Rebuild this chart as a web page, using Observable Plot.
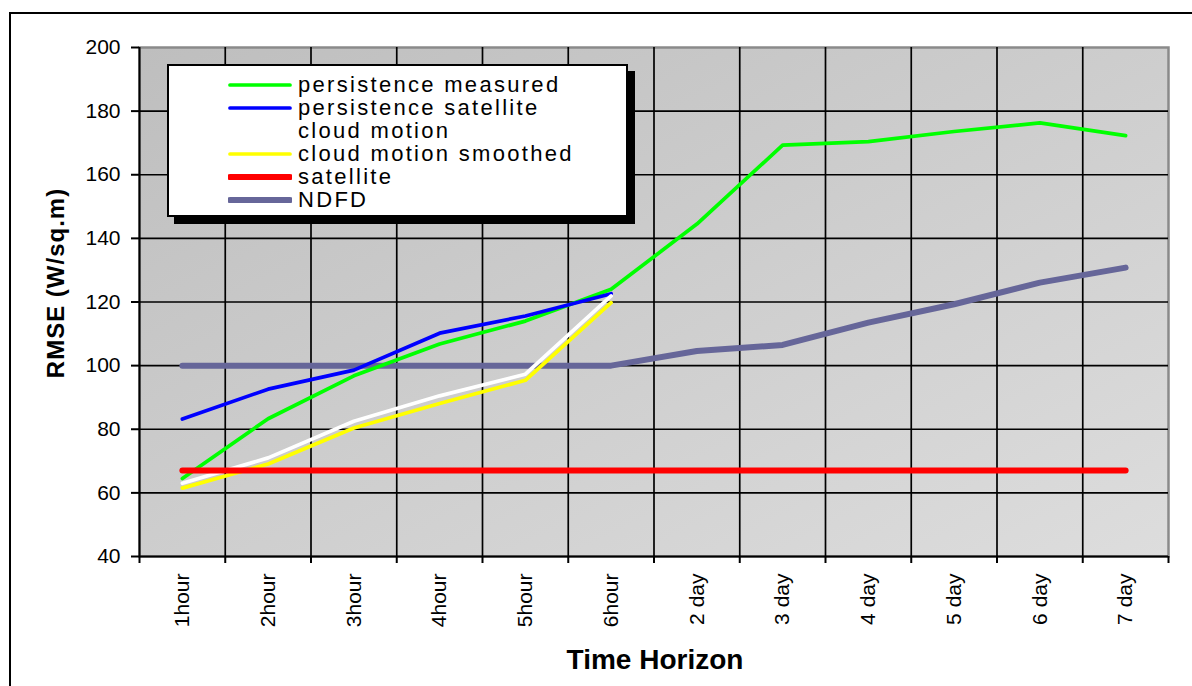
<!DOCTYPE html>
<html>
<head>
<meta charset="utf-8">
<script src="https://cdn.jsdelivr.net/npm/d3@7"></script>
<script src="https://cdn.jsdelivr.net/npm/@observablehq/plot@0.6"></script>
<style>
  html, body { margin: 0; padding: 0; background: #fff; }
  #wrap { position: relative; width: 1192px; height: 686px; overflow: hidden; font-family: "Liberation Sans", Arial, sans-serif; }
  #border { position: absolute; left: 9px; top: 12px; width: 1300px; height: 800px; border: 2px solid #000; box-sizing: border-box; }
  #chart { position: absolute; left: 0; top: 0; }
  #ytitle { position: absolute; left: 56px; top: 283px; transform: translate(-50%, -50%) rotate(-90deg); font-weight: bold; font-size: 24px; letter-spacing: 1px; white-space: nowrap; color: #000; }
  #xtitle { position: absolute; left: 655px; top: 660px; transform: translate(-50%, -50%); font-weight: bold; font-size: 28px; white-space: nowrap; color: #000; }
  #legend { position: absolute; left: 167px; top: 64px; width: 461px; height: 153px; box-sizing: border-box; border: 2px solid #000; background: #fff; box-shadow: 7px 7px 0 #000; }
  .row { position: absolute; left: 0; height: 23px; display: flex; align-items: center; }
  .row svg { margin-left: 59px; width: 64px; height: 10px; flex: none; }
  .row span { display: block; height: 23px; overflow: visible; margin-left: 6px; font-size: 22px; letter-spacing: 2.3px; color: #000; white-space: nowrap; line-height: 23px; }
</style>
</head>
<body>
<div id="wrap">
  <div id="border"></div>
  <div id="chart"></div>
  <div id="ytitle">RMSE (W/sq.m)</div>
  <div id="xtitle">Time Horizon</div>
  <div id="legend"></div>
</div>
<script>
// ---- data ----
const categories = ["1hour", "2hour", "3hour", "4hour", "5hour", "6hour", "2 day", "3 day", "4 day", "5 day", "6 day", "7 day"];
const yTicks = [40, 60, 80, 100, 120, 140, 160, 180, 200];
const seriesNames = ["persistence measured", "persistence satellite", "cloud motion", "cloud motion smoothed", "satellite", "NDFD"];
const persistenceMeasured = [64.5, 83.3, 96.8, 106.8, 114, 124, 144.5, 169.3, 170.4, 173.6, 176.3, 172.3];
const persistenceSatellite = [83.2, 92.6, 98.6, 110.2, 115.6, 122.6, null, null, null, null, null, null];
const cloudMotion = [63, 71, 82.5, 90.5, 97.3, 121.9, null, null, null, null, null, null];
const cloudMotionSmoothed = [61.5, 69.1, 80.4, 88.1, 95.4, 119.8, null, null, null, null, null, null];
const satellite = [67, 67, 67, 67, 67, 67, 67, 67, 67, 67, 67, 67];
const ndfd = [100, 100, 100, 100, 100, 100, 104.6, 106.5, 113.5, 119.3, 126.1, 130.8];

const seriesValues = [persistenceMeasured, persistenceSatellite, cloudMotion, cloudMotionSmoothed, satellite, ndfd];
const seriesColors = ["#00ff00", "#0000ff", "#ffffff", "#ffff00", "#ff0000", "#666699"];
const seriesWidths = [3.7, 3.7, 3.7, 3.7, 6, 6];
const drawOrder = [5, 0, 1, 2, 3, 4];

// ---- layout ----
const W = 1192, H = 686;
const mL = 139, mT = 47, mR = 24, mB = 130;
const step = (W - mL - mR) / categories.length;

const rows = seriesNames.map((name, s) =>
  categories.map((c, i) => ({series: name, cat: c, value: seriesValues[s][i]})).filter(d => d.value != null)
);

const lineMarks = drawOrder.map(s => Plot.line(rows[s], {
  x: "cat", y: "value", stroke: seriesColors[s], strokeWidth: seriesWidths[s],
  strokeLinejoin: "round", strokeLinecap: "round"
}));

const chart = Plot.plot({
  width: W, height: H,
  marginLeft: mL, marginTop: mT, marginRight: mR, marginBottom: mB,
  style: {fontFamily: "'Liberation Sans', Arial, sans-serif", fontSize: "21px", color: "#000", background: "transparent", overflow: "visible"},
  x: {type: "point", domain: categories, padding: 0.5, round: false, label: null, axis: null},
  y: {domain: [40, 200], label: null, axis: null},
  marks: [
    Plot.frame({fill: "url(#bg)", stroke: "#8a8a8a", strokeWidth: 2.5}),
    Plot.gridY({ticks: yTicks.slice(1, -1), stroke: "#000", strokeOpacity: 1, strokeWidth: 1.7}),
    Plot.ruleX(categories.slice(1), {x: d => d, dx: -step / 2, stroke: "#000", strokeWidth: 1.7}),
    Plot.ruleX(categories.slice(0, 1), {x: d => d, dx: -step / 2, stroke: "#000", strokeWidth: 2}),
    Plot.ruleY(yTicks.slice(0, 1), {stroke: "#000", strokeWidth: 2}),
    Plot.axisX({ticks: categories, tickSize: 7, tickFormat: () => "", dx: -step / 2, stroke: "#000", strokeWidth: 2, label: null}),
    Plot.axisX({ticks: categories.slice(-1), tickSize: 7, tickFormat: () => "", dx: step / 2, stroke: "#000", strokeWidth: 2, label: null}),
    Plot.axisX({ticks: categories, tickSize: 0, tickPadding: 17, tickRotate: -90, fontSize: 21, label: null}),
    Plot.axisY({ticks: yTicks, tickSize: 8, tickPadding: 11, fontSize: 21, stroke: "#000", strokeWidth: 2, label: null}),
    ...lineMarks
  ]
});

// gradient background for the plotting area
const defs = d3.select(chart).insert("defs", ":first-child");
const grad = defs.append("linearGradient").attr("id", "bg")
  .attr("x1", "0").attr("y1", "0").attr("x2", "1").attr("y2", "1");
grad.append("stop").attr("offset", "0").attr("stop-color", "#bebebe");
grad.append("stop").attr("offset", "1").attr("stop-color", "#dddddd");

document.getElementById("chart").appendChild(chart);

// legend
const legend = document.getElementById("legend");
const rowTops = [7, 30, 53, 76, 99, 122];
seriesNames.forEach((name, s) => {
  const row = document.createElement("div");
  row.className = "row";
  row.style.top = rowTops[s] + "px";
  row.innerHTML = `<svg viewBox="0 0 64 10"><line x1="2" x2="62" y1="5" y2="5" stroke="${seriesColors[s]}" stroke-width="${seriesWidths[s]}" stroke-linecap="round"/></svg><span>${name}</span>`;
  legend.appendChild(row);
});
</script>
</body>
</html>
